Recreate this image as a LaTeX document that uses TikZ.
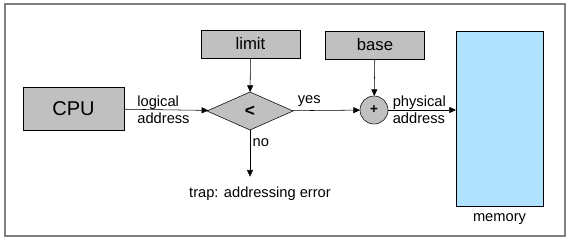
\documentclass[tikz,border=0pt]{standalone}
\usepackage{fontspec}
\setmainfont{Liberation Sans}
\usetikzlibrary{
positioning,
shapes.geometric,
arrows.meta,
}
\definecolor{boxgray}{HTML}{C0C0C0}
\definecolor{memblue}{HTML}{B0E2FF}
\definecolor{framegray}{HTML}{808080}
\tikzset{
outer sep=0pt,
every node/.style={align=center},
register/.style={rectangle, draw, fill=boxgray, minimum width=74.25pt, minimum height=21pt, font=\fontsize{12.5}{14}\selectfont},
cpubox/.style={rectangle, draw, fill=boxgray, minimum width=75.75pt, minimum height=32.25pt, font=\fontsize{15}{18}\selectfont},
compare/.style={diamond, draw, fill=boxgray, aspect=2.26, inner sep=1pt, minimum width=64.5pt, minimum height=28.5pt, font=\bfseries\fontsize{13}{14}\selectfont},
adder/.style={circle, draw, fill=boxgray, minimum size=21pt, inner sep=0pt, font=\bfseries\fontsize{10}{12}\selectfont},
memory/.style={rectangle, draw, fill=memblue, minimum width=65.25pt, minimum height=131.25pt},
tag/.style={font=\fontsize{11}{12.5}\selectfont, inner sep=1pt},
>={Triangle[length=5pt,width=4.5pt]},
line width=0.6pt,
}
\begin{document}
\begin{tikzpicture}[x=0.75pt, y=-0.75pt]
\useasboundingbox (0,0) rectangle (572,246);
\fill[white] (0,0) rectangle (572,246);
\draw[framegray, line width=1pt] (5,4) rectangle (565,236);

\node (cpu) [cpubox] at (73.5,108.5) {CPU};
\node (limit) [register] at (250.5,44) {limit};
\node (base) [register] at (375,45) {base};
\node (test) [compare] at (250,111) {<};
\node (add) [adder] at (374,110) {+};
\node (mem) [memory] at (499.5,118.5) {};
\node (memlabel) [tag, below=5pt of mem] {memory};
\node (trap) [tag, anchor=north] at (260,186) {trap: addressing error};

% address path through the check and the adder
\draw[->] (cpu) -- node[tag, align=left, xshift=-2pt] {logical\\address} (test);
\draw[->] (limit) -- (test);
\draw[->] (test) -- node[tag, pos=0.25, above=2pt] {yes} (add);
\draw[->] (base) -- (add);
\draw[->] (add) -- node[tag, align=left, xshift=-2pt] {physical\\address} (mem.west |- add);
\draw[->, shorten >=7pt] (test) -- node[tag, pos=0.22, right=1pt] {no} (test.south |- trap.north);
\end{tikzpicture}
\end{document}
